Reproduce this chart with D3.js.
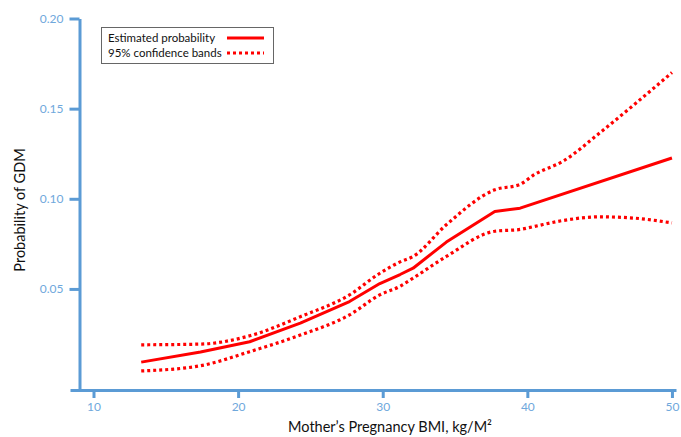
<!DOCTYPE html>
<html>
<head>
<meta charset="utf-8">
<script src="https://cdn.jsdelivr.net/npm/d3@7"></script>
<style>
  body { margin: 0; background: #fff; }
  text { font-family: Lato, "Open Sans", sans-serif; }
</style>
</head>
<body>
<script>
// values
var bmiEst   = [13.3, 17.4, 20.8, 24.3, 27.7, 29.8, 31.2, 32.1, 34.4, 37.75, 39.5, 50];
var probEst  = [0.0094, 0.015, 0.0207, 0.031, 0.043, 0.053, 0.058, 0.0615, 0.076, 0.093, 0.0948, 0.1226];

var bmiBand   = [13.3, 17.4, 20.8, 24.3, 27.7, 29.8, 31.2, 32.1, 34.4, 37.75, 39.5, 40.4, 42.5, 45, 47.5, 50];
var probUpper = [0.019, 0.0194, 0.024, 0.0346, 0.0467, 0.0587, 0.065, 0.068, 0.0856, 0.105, 0.108, 0.113, 0.121, 0.1365, 0.153, 0.170];
var probLower = [0.0045, 0.0074, 0.0152, 0.0244, 0.0356, 0.0467, 0.0515, 0.056, 0.068, 0.082, 0.083, 0.0845, 0.088, 0.090, 0.0892, 0.0866];

var xTicks = [10, 20, 30, 40, 50];
var yTicks = [0.05, 0.10, 0.15, 0.20];

var legendLabels = ['Estimated probability', '95% confidence bands'];

var W = 681, H = 437;
var axisColor = '#5b9bd5', labelColor = '#6fa8dc', red = '#ff0000';

var svg = d3.select('body').append('svg')
  .attr('width', W)
  .attr('height', H);

var x = d3.scaleLinear().domain([8.375, 50.28]).range([70, 676]);
var y = d3.scaleLinear().domain([-0.00606, 0.20]).range([390, 18.5]);

// axes
var xAxis = svg.append('g')
  .attr('transform', 'translate(0,390)')
  .call(d3.axisBottom(x).tickValues(xTicks).tickSize(8).tickSizeOuter(0).tickPadding(4).tickFormat(d3.format('d')));

var yAxis = svg.append('g')
  .attr('transform', 'translate(79.5,0)')
  .call(d3.axisLeft(y).tickValues(yTicks).tickSize(10).tickSizeOuter(0).tickPadding(6).tickFormat(d3.format('.2f')));

[xAxis, yAxis].forEach(function (g) {
  g.selectAll('path, line').attr('stroke', axisColor).attr('stroke-width', 3);
  g.selectAll('text').attr('fill', labelColor).style('font-size', '12px');
});

// lines
var px = function (d) { return x(d[0]); };
var py = function (d) { return y(d[1]); };
var bandLine = d3.line().x(px).y(py).curve(d3.curveMonotoneX);
var estLine  = d3.line().x(px).y(py);

var est   = d3.zip(bmiEst, probEst);
var upper = d3.zip(bmiBand, probUpper);
var lower = d3.zip(bmiBand, probLower);

[upper, lower].forEach(function (s) {
  svg.append('path')
    .datum(s)
    .attr('d', bandLine)
    .attr('fill', 'none')
    .attr('stroke', red)
    .attr('stroke-width', 3.2)
    .attr('stroke-dasharray', '3,3');
});

svg.append('path')
  .datum(est)
  .attr('d', estLine)
  .attr('fill', 'none')
  .attr('stroke', red)
  .attr('stroke-width', 3)
  .attr('stroke-linejoin', 'round');

// axis titles
svg.append('text')
  .attr('x', 390)
  .attr('y', 432)
  .attr('text-anchor', 'middle')
  .style('font-size', '14.5px')
  .attr('fill', '#111')
  .text('Mother\u2019s Pregnancy BMI, kg/M\u00B2');

svg.append('text')
  .attr('transform', 'translate(25,210) rotate(-90)')
  .attr('text-anchor', 'middle')
  .style('font-size', '14.5px')
  .attr('fill', '#111')
  .text('Probability of GDM');

// legend
var legend = svg.append('g');
legend.append('rect')
  .attr('x', 101.5).attr('y', 27.5)
  .attr('width', 172).attr('height', 36)
  .attr('fill', '#fff')
  .attr('stroke', '#666')
  .attr('stroke-width', 1);

legendLabels.forEach(function (t, i) {
  var ly = 38 + i * 15;
  legend.append('text')
    .attr('x', 108).attr('y', ly + 4)
    .style('font-size', '11.5px')
    .attr('fill', '#111')
    .text(t);
  legend.append('line')
    .attr('x1', 227).attr('x2', 264)
    .attr('y1', ly).attr('y2', ly)
    .attr('stroke', red)
    .attr('stroke-width', 3)
    .attr('stroke-dasharray', i === 0 ? null : '3,3');
});
</script>
</body>
</html>
